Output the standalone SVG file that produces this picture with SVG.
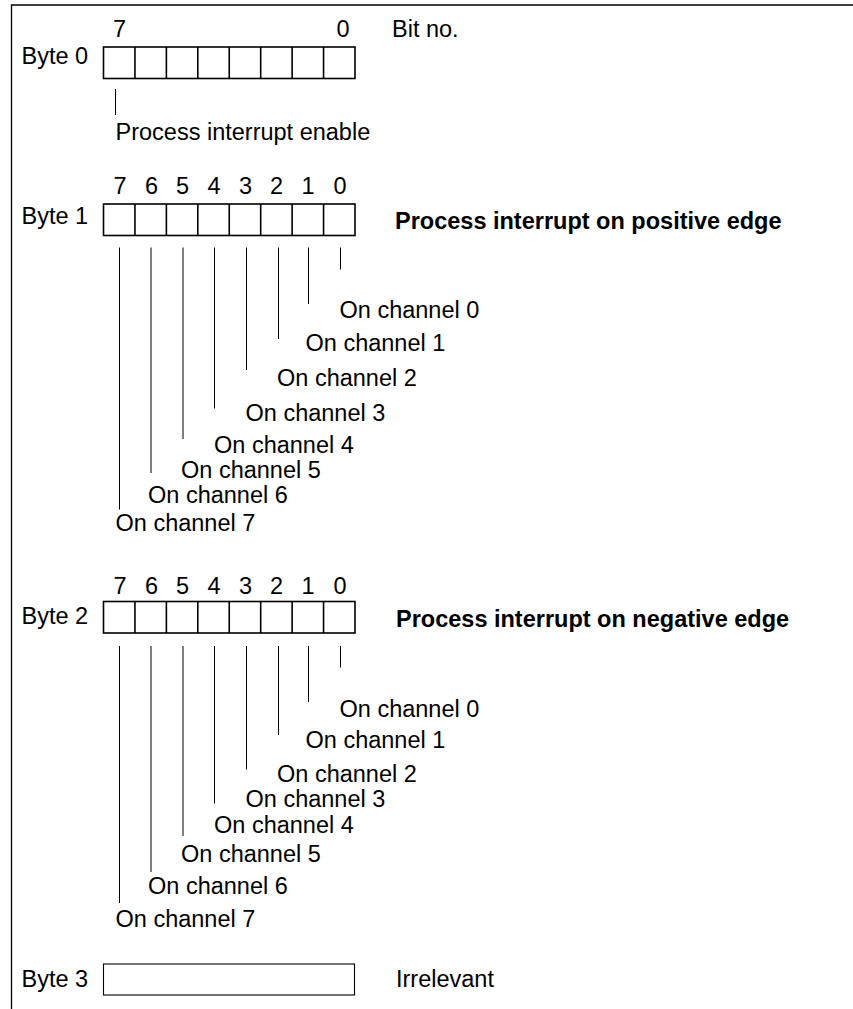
<svg xmlns="http://www.w3.org/2000/svg" width="853" height="1009" viewBox="0 0 853 1009">
  <style>
    text { font-family: "Liberation Sans", Arial, sans-serif; font-size: 23.5px; fill: #000; }
    .num { text-anchor: middle; }
    .bold { font-weight: bold; }
    .box { fill: #fff; stroke: #000; stroke-width: 1.6; }
    .box3 { fill: #fff; stroke: #000; stroke-width: 1.1; }
    .cell { stroke: #000; stroke-width: 1.6; }
    .lead { stroke: #000; stroke-width: 1; fill: none; }
    .frame { stroke: #000; stroke-width: 1.3; fill: none; }
  </style>
  <defs>
    <!-- eight-cell byte register, origin at its top-left corner -->
    <g id="reg8">
      <rect class="box" x="0" y="0" width="251.5" height="31.5"/>
      <path class="cell" d="M31.44 0V31.5M62.88 0V31.5M94.31 0V31.5M125.75 0V31.5M157.19 0V31.5M188.63 0V31.5M220.06 0V31.5"/>
    </g>
  </defs>

  <!-- page frame: top and left edges -->
  <path class="frame" d="M853 5H11.5V1009"/>

  <!-- Byte 0 -->
  <g id="byte0">
    <text x="392" y="37">Bit no.</text>
    <text class="num" x="119.5" y="37">7</text>
    <text class="num" x="343" y="37">0</text>
    <text x="21.5" y="64">Byte 0</text>
    <use href="#reg8" x="103.5" y="47"/>
  </g>
  <g id="byte0-enable">
    <text x="115.5" y="140">Process interrupt enable</text>
  </g>

  <!-- Byte 1 -->
  <g id="byte1">
    <g class="num">
      <text x="120" y="193.5">7</text>
      <text x="151.5" y="193.5">6</text>
      <text x="182.5" y="193.5">5</text>
      <text x="214" y="193.5">4</text>
      <text x="245.5" y="193.5">3</text>
      <text x="276.5" y="193.5">2</text>
      <text x="308" y="193.5">1</text>
      <text x="340" y="193.5">0</text>
    </g>
    <text x="21.5" y="224">Byte 1</text>
    <use href="#reg8" x="103.5" y="204"/>
    <text class="bold" x="395" y="228.5">Process interrupt on positive edge</text>
  </g>
  <g id="byte1-channels">
    <text x="339.5" y="318">On channel 0</text>
    <text x="305.5" y="351">On channel 1</text>
    <text x="277" y="386">On channel 2</text>
    <text x="245.5" y="421">On channel 3</text>
    <text x="214" y="453">On channel 4</text>
    <text x="181" y="477.5">On channel 5</text>
    <text x="148" y="503">On channel 6</text>
    <text x="115.5" y="531">On channel 7</text>
  </g>

  <!-- Byte 2 -->
  <g id="byte2">
    <g class="num">
      <text x="120" y="593.5">7</text>
      <text x="151.5" y="593.5">6</text>
      <text x="182.5" y="593.5">5</text>
      <text x="214" y="593.5">4</text>
      <text x="245.5" y="593.5">3</text>
      <text x="276.5" y="593.5">2</text>
      <text x="308" y="593.5">1</text>
      <text x="340" y="593.5">0</text>
    </g>
    <text x="21.5" y="623.5">Byte 2</text>
    <use href="#reg8" x="103.5" y="601.5"/>
    <text class="bold" x="396" y="627">Process interrupt on negative edge</text>
  </g>
  <g id="byte2-channels">
    <text x="339.5" y="717">On channel 0</text>
    <text x="305.5" y="748">On channel 1</text>
    <text x="277" y="782">On channel 2</text>
    <text x="245.5" y="807">On channel 3</text>
    <text x="214" y="833">On channel 4</text>
    <text x="181" y="862">On channel 5</text>
    <text x="148" y="893.5">On channel 6</text>
    <text x="115.5" y="927">On channel 7</text>
  </g>

  <!-- Byte 3 -->
  <g id="byte3">
    <text x="21.5" y="987">Byte 3</text>
    <rect class="box3" x="103.5" y="964" width="251" height="31"/>
    <text x="396" y="987">Irrelevant</text>
  </g>

  <!-- leader lines from each bit down to its label -->
  <g id="connectors">
    <path class="lead" d="M115.5 89V115"/>
    <path class="lead" d="M119.5 247.5V509.5M151 247.5V473M183 247.5V439M214.5 247.5V408.5M246.5 247.5V370M278.5 247.5V339M308.5 247.5V304M340.5 247.5V269.5"/>
    <path class="lead" d="M119.5 646V903M151 646V872M183 646V836M214.5 646V803.5M246.5 646V769.5M278.5 646V735M308.5 646V702M340.5 646V667.5"/>
  </g>
</svg>
